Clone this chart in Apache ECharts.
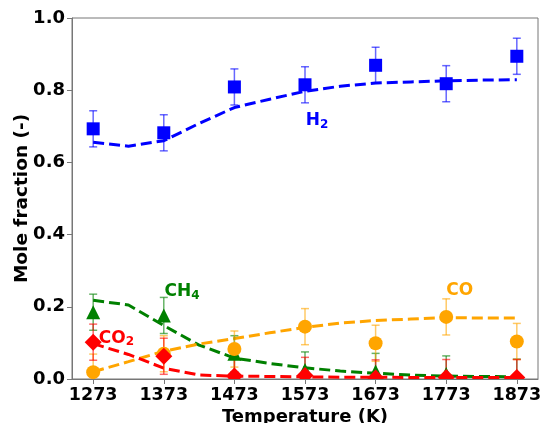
<!DOCTYPE html>
<html>
<head>
<meta charset="utf-8">
<script src="https://cdn.jsdelivr.net/npm/echarts@6/dist/echarts.min.js"></script>
<style>html,body{margin:0;padding:0;background:#fff;}#c{width:542px;height:423px;}</style>
</head>
<body>
<div id="c"></div>
<script>
// Experimental temperatures (K)
const temps = [1273, 1373, 1473, 1573, 1673, 1773, 1873];
// Experimental mole fractions
const h2Exp  = [0.693, 0.682, 0.809, 0.815, 0.869, 0.818, 0.894];
const ch4Exp = [0.185, 0.176, 0.070, 0.025, 0.021, 0.014, 0.005];
const coExp  = [0.019, 0.070, 0.083, 0.145, 0.099, 0.172, 0.104];
const co2Exp = [0.102, 0.063, 0.008, 0.010, 0.003, 0.004, 0.004];
// Error bar half-widths
const h2Err  = [0.05, 0.05, 0.05, 0.05, 0.05, 0.05, 0.05];
const ch4Err = [0.05, 0.05, 0.05, 0.05, 0.05, 0.05, 0.05];
const coErr  = [0.05, 0.05, 0.05, 0.05, 0.05, 0.05, 0.05];
const co2Err = [0.05, 0.05, 0.05, 0.05, 0.05, 0.05, 0.05];
// Model curves
const modelT   = [1273, 1323, 1373, 1423, 1473, 1523, 1573, 1623, 1673, 1723, 1773, 1823, 1873];
const h2Model  = [0.656, 0.645, 0.660, 0.708, 0.752, 0.775, 0.797, 0.811, 0.820, 0.823, 0.826, 0.828, 0.829];
const ch4Model = [0.218, 0.205, 0.148, 0.094, 0.058, 0.043, 0.031, 0.022, 0.016, 0.011, 0.008, 0.007, 0.006];
const coModel  = [0.020, 0.048, 0.077, 0.097, 0.112, 0.128, 0.143, 0.155, 0.162, 0.166, 0.170, 0.169, 0.169];
const co2Model = [0.098, 0.068, 0.030, 0.011, 0.008, 0.007, 0.006, 0.005, 0.005, 0.004, 0.004, 0.004, 0.004];
// Annotation labels (species name, subscript, anchor T, anchor value)
const labelMain = ['H', 'CH', 'CO', 'CO'];
const labelSub  = ['2', '4', '2', ''];
const labelT    = [1574, 1374, 1281, 1773];
const labelV    = [0.715, 0.242, 0.113, 0.244];

const C = {h2: '#0000ff', ch4: '#008000', co: '#ffa500', co2: '#ff0000'};
const Cerr = {h2: 'rgba(0,0,255,0.6)', ch4: 'rgba(0,128,0,0.6)', co: 'rgba(255,165,0,0.6)', co2: 'rgba(255,0,0,0.6)'};
const FONT = 'DejaVu Sans';

const zip = (xs, ys) => xs.map((x, i) => [x, ys[i]]);

function errSeries(vals, errs, color, z) {
  return {
    type: 'custom', z: z, clip: true, silent: true,
    data: temps.map((t, i) => [t, vals[i] - errs[i], vals[i] + errs[i]]),
    renderItem: function (params, api) {
      const x = api.value(0);
      const lo = api.coord([x, api.value(1)]);
      const hi = api.coord([x, api.value(2)]);
      const hw = 4;
      const st = {stroke: color, lineWidth: 1.5};
      return {type: 'group', children: [
        {type: 'line', shape: {x1: lo[0], y1: lo[1], x2: hi[0], y2: hi[1]}, style: st},
        {type: 'line', shape: {x1: lo[0] - hw, y1: lo[1], x2: lo[0] + hw, y2: lo[1]}, style: st},
        {type: 'line', shape: {x1: hi[0] - hw, y1: hi[1], x2: hi[0] + hw, y2: hi[1]}, style: st}
      ]};
    }
  };
}
function modelSeries(vals, color, z) {
  return {type: 'line', data: zip(modelT, vals), symbol: 'none', z: z, silent: true,
    lineStyle: {color: color, width: 3, type: [11, 5]}};
}
// Markers drawn as a custom series so they are clipped at the plot frame
function markerSeries(vals, color, kind, z) {
  return {
    type: 'custom', z: z, clip: true, silent: true,
    data: zip(temps, vals),
    renderItem: function (params, api) {
      const p = api.coord([api.value(0), api.value(1)]);
      const st = {fill: color};
      if (kind === 'square') {
        const h = 6.5;
        return {type: 'rect', shape: {x: p[0] - h, y: p[1] - h, width: 2 * h, height: 2 * h}, style: st};
      }
      if (kind === 'circle') {
        return {type: 'circle', shape: {cx: p[0], cy: p[1], r: 7}, style: st};
      }
      if (kind === 'triangle') {
        const h = 7;
        return {type: 'polygon', shape: {points: [[p[0], p[1] - h], [p[0] - h, p[1] + h], [p[0] + h, p[1] + h]]}, style: st};
      }
      const d = 8.5;
      return {type: 'polygon', shape: {points: [[p[0], p[1] - d], [p[0] + d, p[1]], [p[0], p[1] + d], [p[0] - d, p[1]]]}, style: st};
    }
  };
}
const labelColors = [C.h2, C.ch4, C.co2, C.co];
const labelSeries = labelMain.map((m, i) => ({
  type: 'scatter', z: 20, symbolSize: 0, silent: true,
  itemStyle: {opacity: 1},
  data: [[labelT[i], labelV[i]]],
  label: {
    show: true, position: 'right', distance: 0, opacity: 1,
    formatter: labelSub[i] ? '{m|' + m + '}{s|' + labelSub[i] + '}' : '{m|' + m + '}',
    rich: {
      m: {fontFamily: FONT, fontWeight: 'bold', fontSize: 17, color: labelColors[i]},
      s: {fontFamily: FONT, fontWeight: 'bold', fontSize: 12, color: labelColors[i], padding: [8, 0, 0, 0]}
    }
  }
}));

const chart = echarts.init(document.getElementById('c'), null, {renderer: 'canvas'});
chart.setOption({
  animation: false,
  backgroundColor: '#fff',
  grid: {left: 72, right: 4, top: 18, bottom: 44, show: true, borderColor: '#777', borderWidth: 1,
    containLabel: false, outerBoundsMode: 'none'},
  xAxis: {
    type: 'value', min: 1243, max: 1903,
    name: 'Temperature (K)', nameLocation: 'middle', nameGap: 29, nameMoveOverlap: false,
    nameTextStyle: {fontFamily: FONT, fontWeight: 'bold', fontSize: 18, color: '#000'},
    axisLine: {show: true, lineStyle: {color: '#777', width: 1}},
    axisTick: {show: true, length: 5, inside: false, customValues: temps, lineStyle: {color: '#777'}},
    axisLabel: {customValues: temps, margin: 7, fontFamily: FONT, fontWeight: 'bold', fontSize: 17.5, color: '#000',
      formatter: v => String(v)},
    splitLine: {show: false}
  },
  yAxis: {
    type: 'value', min: 0, max: 1, interval: 0.2,
    name: 'Mole fraction (-)', nameLocation: 'middle', nameGap: 40, nameRotate: 90, nameMoveOverlap: false,
    nameTextStyle: {fontFamily: FONT, fontWeight: 'bold', fontSize: 18.5, color: '#000'},
    axisLine: {show: true, lineStyle: {color: '#777', width: 1}},
    axisTick: {show: true, length: 5, inside: false, lineStyle: {color: '#777'}},
    axisLabel: {margin: 7, fontFamily: FONT, fontWeight: 'bold', fontSize: 18, color: '#000',
      formatter: v => v.toFixed(1)},
    splitLine: {show: false}
  },
  series: [
    modelSeries(h2Model, C.h2, 2),
    modelSeries(ch4Model, C.ch4, 2),
    modelSeries(coModel, C.co, 2),
    modelSeries(co2Model, C.co2, 2),
    errSeries(h2Exp, h2Err, Cerr.h2, 3),
    errSeries(ch4Exp, ch4Err, Cerr.ch4, 3),
    errSeries(coExp, coErr, Cerr.co, 3),
    errSeries(co2Exp, co2Err, Cerr.co2, 3),
    markerSeries(h2Exp, C.h2, 'square', 4),
    markerSeries(ch4Exp, C.ch4, 'triangle', 4),
    markerSeries(coExp, C.co, 'circle', 5),
    markerSeries(co2Exp, C.co2, 'diamond', 6)
  ].concat(labelSeries)
});
</script>
</body>
</html>
